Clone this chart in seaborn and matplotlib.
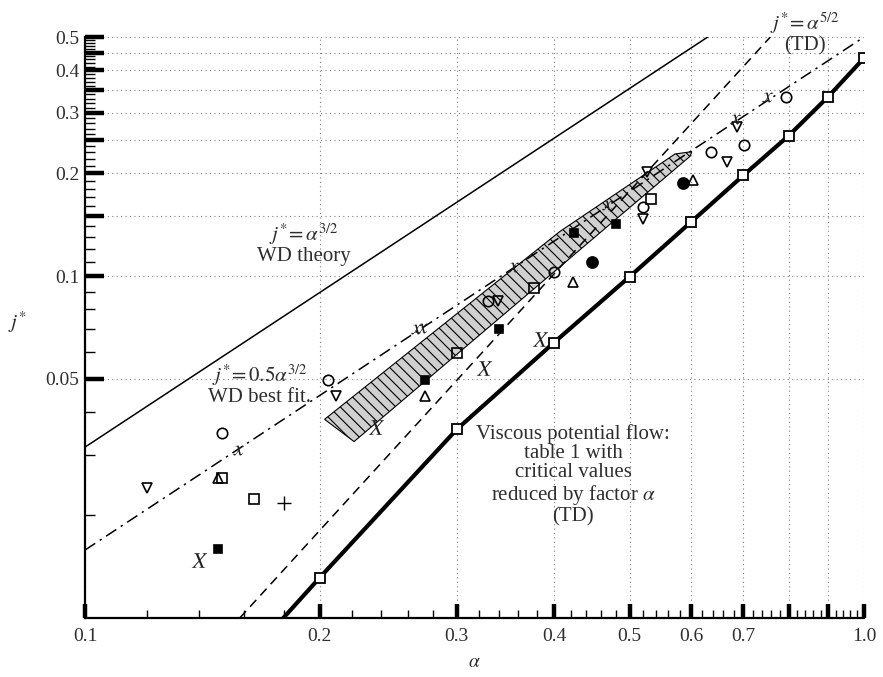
# Critical drift flux j* vs void fraction alpha (log-log)

import matplotlib
matplotlib.use("Agg")
import matplotlib.pyplot as plt
import seaborn as sns
import pandas as pd
from matplotlib.ticker import NullFormatter

# straight reference lines (end points)
wd_theory_a = [0.1, 0.63]
wd_theory_j = [0.0316, 0.5]
wd_fit_a = [0.1, 1.0]
wd_fit_j = [0.0158, 0.5]
td_a = [0.158, 0.758]
td_j = [0.01, 0.5]

# viscous potential flow (thick line with open squares)
vpf_a = [0.179, 0.2, 0.3, 0.4, 0.5, 0.6, 0.7, 0.8, 0.9, 1.0]
vpf_j = [0.0099, 0.0131, 0.0356, 0.0639, 0.0995, 0.144, 0.197, 0.257, 0.335, 0.434]

# hatched band
band_a = [0.203, 0.407, 0.572, 0.601, 0.598, 0.2215]
band_j = [0.0381, 0.135, 0.2275, 0.231, 0.224, 0.0328]

# experimental points
circle_a = [0.150, 0.205, 0.329, 0.400, 0.520, 0.636, 0.702, 0.794]
circle_j = [0.0347, 0.0497, 0.0844, 0.1028, 0.1587, 0.2306, 0.2418, 0.335]
tri_down_a = [0.120, 0.210, 0.339, 0.520, 0.526, 0.667, 0.687]
tri_down_j = [0.0240, 0.0446, 0.0844, 0.1472, 0.2012, 0.2154, 0.2733]
tri_up_a = [0.148, 0.273, 0.423, 0.603]
tri_up_j = [0.0256, 0.0446, 0.0960, 0.1906]
sq_open_a = [0.150, 0.165, 0.300, 0.377, 0.533]
sq_open_j = [0.0256, 0.0223, 0.0597, 0.0922, 0.1676]
sq_fill_a = [0.148, 0.273, 0.340, 0.424, 0.481]
sq_fill_j = [0.0159, 0.0497, 0.0700, 0.1339, 0.1423]
dot_a = [0.447, 0.585]
dot_j = [0.1096, 0.1868]
plus_a = [0.180]
plus_j = [0.0217]
x_small_a = [0.157, 0.266, 0.271, 0.354, 0.468, 0.683, 0.751]
x_small_j = [0.0309, 0.0700, 0.0705, 0.1063, 0.161, 0.288, 0.335]
x_big_a = [0.140, 0.236, 0.325, 0.384]
x_big_j = [0.0148, 0.0363, 0.0539, 0.0656]

# ticks
x_major = [0.1, 0.2, 0.3, 0.4, 0.5, 0.6, 0.7, 0.8, 0.9, 1.0]
x_labels = ["0.1", "0.2", "0.3", "0.4", "0.5", "0.6", "0.7", "", "", "1.0"]
y_major = [0.05, 0.1, 0.15, 0.2, 0.25, 0.3, 0.35, 0.4, 0.45, 0.5]
y_labels = ["0.05", "0.1", "", "0.2", "", "0.3", "", "0.4", "", "0.5"]

sns.set_theme(style="white")
plt.rcParams["font.family"] = ["Liberation Serif", "DejaVu Serif"]
plt.rcParams["mathtext.fontset"] = "stix"
plt.rcParams["hatch.linewidth"] = 0.8

ink = "#1e1e1e"
txt = "#2e2e2e"

fig = plt.figure(figsize=(8.83, 6.77), dpi=100)
ax = fig.add_axes([0.0963, 0.0872, 0.8822, 0.8581])
ax.set_xscale("log")
ax.set_yscale("log")

# band
ax.fill(band_a, band_j, facecolor="#d0d0d0", edgecolor="black",
        hatch="\\\\\\", linewidth=0.8, zorder=2)

def line(a, j, **kw):
    df = pd.DataFrame({"a": a, "j": j})
    sns.lineplot(data=df, x="a", y="j", ax=ax, estimator=None, sort=False,
                 color="black", **kw)

line(wd_theory_a, wd_theory_j, linewidth=1.1, zorder=3)
line(wd_fit_a, wd_fit_j, linewidth=1.1, linestyle=(0, (8, 3.5, 1.5, 3.5)), zorder=3)
line(td_a, td_j, linewidth=1.1, linestyle=(0, (6, 4)), zorder=3)
line(vpf_a, vpf_j, linewidth=3.0, marker="s", markersize=7,
     markerfacecolor="white", markeredgecolor="black", markeredgewidth=1.3,
     markevery=list(range(1, len(vpf_a))), zorder=4)

def pts(a, j, marker, size, face="none", mew=1.2):
    line(a, j, linestyle="none", marker=marker, markersize=size,
         markerfacecolor=face, markeredgecolor="black", markeredgewidth=mew, zorder=5)

pts(circle_a, circle_j, "o", 7.5)
pts(tri_down_a, tri_down_j, "v", 7.5)
pts(tri_up_a, tri_up_j, "^", 7.5)
pts(sq_open_a, sq_open_j, "s", 6.5)
pts(sq_fill_a, sq_fill_j, "s", 5.5, face="black")
pts(dot_a, dot_j, "o", 8, face="black")
pts(plus_a, plus_j, "+", 10, mew=1.0)
pts(x_small_a, x_small_j, "$x$", 7.5, face=ink, mew=0)
pts(x_big_a, x_big_j, "$X$", 11, face=ink, mew=0)

ax.set_xlim(0.1, 1.0)
ax.set_ylim(0.01, 0.5)

ax.set_xticks(x_major)
ax.set_xticklabels(x_labels)
x_minor = [v / 100 for v in range(12, 100, 2) if v % 10 != 0]
ax.set_xticks(x_minor, minor=True)
ax.set_yticks(y_major)
ax.set_yticklabels(y_labels)
y_minor = [v / 100 for v in range(2, 50) if v % 5 != 0]
ax.set_yticks(y_minor, minor=True)
ax.xaxis.set_minor_formatter(NullFormatter())
ax.yaxis.set_minor_formatter(NullFormatter())

ax.tick_params(which="both", direction="in", top=False, right=False,
               bottom=True, left=True, colors="black", labelcolor=txt,
               labelsize=14)
ax.tick_params(axis="x", which="major", length=10, width=3.2, pad=7)
ax.tick_params(axis="x", which="minor", length=6, width=1.0)
ax.tick_params(axis="y", which="major", length=13.5, width=3.2, pad=4)
ax.tick_params(axis="y", which="minor", length=7.5, width=1.0)

ax.grid(True, which="major", linestyle=(0, (1, 3)), color="#808080", linewidth=0.8)
ax.set_axisbelow(True)
for side in ["top", "right"]:
    ax.spines[side].set_visible(False)
for side in ["left", "bottom"]:
    ax.spines[side].set_linewidth(1.6)
    ax.spines[side].set_color("black")

ax.set_xlabel(r"$\alpha$", fontsize=14, color=txt, va="center")
ax.xaxis.set_label_coords(0.5, -0.0775)
ax.set_ylabel(r"$j^{*}$", fontsize=15, color=txt, rotation=0, va="center", ha="center")
ax.yaxis.set_label_coords(-0.087, 0.509)

tk = dict(fontsize=15, color=txt, ha="center", va="center",
          multialignment="center", zorder=6)
ax.text(0.191, 0.1245, "$j^{*}\\!=\\alpha^{3/2}$\nWD theory", linespacing=1.0, **tk)
ax.text(0.1675, 0.0481, "$j^{*}\\!=0.5\\alpha^{3/2}$\nWD best fit.", linespacing=1.0, **tk)
ax.text(0.84, 0.514, "$j^{*}\\!=\\alpha^{5/2}$\n(TD)", linespacing=1.0,
        clip_on=False, **tk)
ax.text(0.423, 0.0262,
        "Viscous potential flow:\ntable 1 with\ncritical values\n"
        r"reduced by factor $\alpha$" "\n(TD)",
        linespacing=1.02, **tk)

fig.savefig("out.png", dpi=100)
